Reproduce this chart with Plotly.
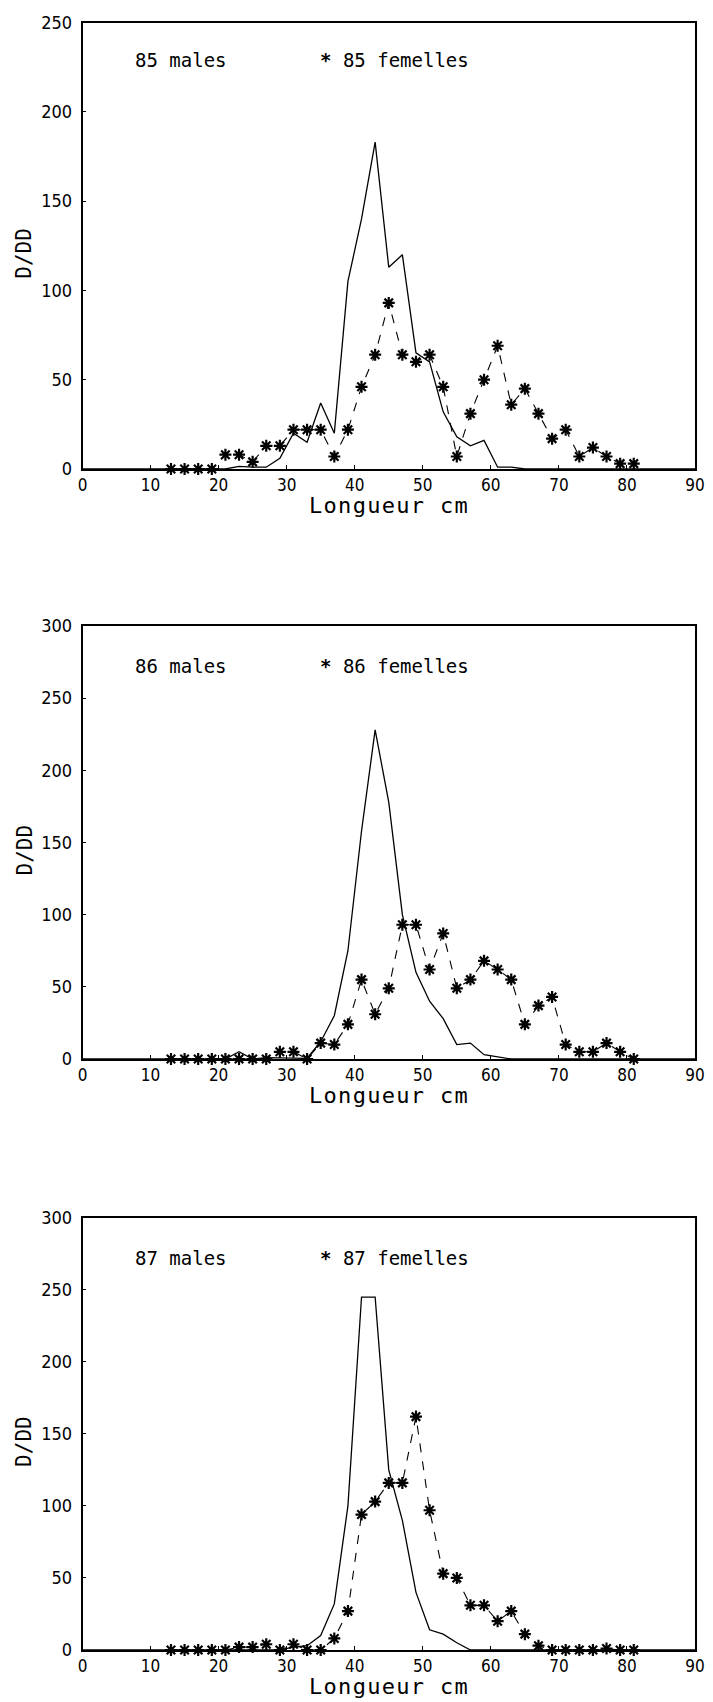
import plotly.graph_objects as go
from plotly.subplots import make_subplots

# ---------------- data ----------------
# female length classes (cm)
fem_x = [13, 15, 17, 19, 21, 23, 25, 27, 29, 31, 33, 35, 37, 39, 41, 43, 45, 47, 49,
         51, 53, 55, 57, 59, 61, 63, 65, 67, 69, 71, 73, 75, 77, 79, 81]

fem_85 = [0, 0, 0, 0, 8, 8, 4, 13, 13, 22, 22, 22, 7, 22, 46, 64, 93, 64, 60,
          64, 46, 7, 31, 50, 69, 36, 45, 31, 17, 22, 7, 12, 7, 3, 3]
fem_86 = [0, 0, 0, 0, 0, 0, 0, 0, 5, 5, 0, 11, 10, 24, 55, 31, 49, 93, 93,
          62, 87, 49, 55, 68, 62, 55, 24, 37, 43, 10, 5, 5, 11, 5, 0]
fem_87 = [0, 0, 0, 0, 0, 2, 2, 4, 0, 4, 0, 0, 8, 27, 94, 103, 116, 116, 162,
          97, 53, 50, 31, 31, 20, 27, 11, 3, 0, 0, 0, 0, 1, 0, 0]

# male length classes (cm)
male_x = [0, 19, 21, 23, 25, 27, 29, 31, 33, 35, 37, 39, 41, 43, 45, 47, 49,
          51, 53, 55, 57, 59, 61, 63, 65, 67, 69, 71, 73, 75, 77, 79, 90]

male_85 = [0, 0, 0, 1.5, 1, 1, 6, 20, 15, 37, 20, 105, 140, 183, 113, 120, 65,
           60, 32, 18, 13, 16, 1, 1, 0, 0, 0, 0, 0, 0, 0, 0, 0]
male_86 = [0, 0, 0, 5, 0, 1, 1, 1, 0.5, 12, 30, 75, 158, 228, 178, 100, 60,
           40, 28, 10, 11, 3, 1.5, 0, 0, 0, 0, 0.5, 0.5, 0.5, 0.5, 0, 0]
male_87 = [0, 0, 0, 0, 0, 0, 0, 2, 3, 10, 32, 100, 245, 245, 125, 90, 40,
           14, 11, 5, 0, 0, 0, 0, 0, 0, 0, 0, 0, 0, 0, 0, 0]

years = ["85", "86", "87"]
males = [male_85, male_86, male_87]
females = [fem_85, fem_86, fem_87]
y_max = [250, 300, 300]
y_ticks = [[0, 50, 100, 150, 200, 250],
           [0, 50, 100, 150, 200, 250, 300],
           [0, 50, 100, 150, 200, 250, 300]]
x_ticks = [0, 10, 20, 30, 40, 50, 60, 70, 80, 90]

x_title = "Longueur cm"
y_title = "D/DD"

# ---------------- layout ----------------
W, H = 713, 1702
OFF = 8  # page body margin of the html page
MONO = "DejaVu Sans Mono"
NARROW = "Liberation Sans Narrow, DejaVu Sans Condensed, DejaVu Sans Mono"


def px_x(px):
    return (px - OFF) / W


def px_y(py):
    return 1 - (py - OFF) / H


fig = make_subplots(rows=3, cols=1)

# page-pixel positions of plot frames (top, bottom)
frames = [(22.5, 469), (626, 1059), (1217.8, 1650)]
x_left, x_right = 82.5, 695
label_y = [229, 272, 272]

for i in range(3):
    r = i + 1
    fig.add_trace(go.Scatter(
        x=male_x, y=males[i], mode="lines",
        line=dict(color="black", width=1.3),
        showlegend=False, cliponaxis=False), row=r, col=1)
    fig.add_trace(go.Scatter(
        x=fem_x, y=females[i], mode="lines+markers",
        line=dict(color="black", width=1.1, dash="dash"),
        marker=dict(symbol="asterisk-open", size=10, color="black",
                    line=dict(color="black", width=2.2)),
        showlegend=False, cliponaxis=False), row=r, col=1)

    top, bot = frames[i]
    ydom = [px_y(bot), px_y(top)]
    xdom = [px_x(x_left), px_x(x_right)]
    xa = "xaxis" if i == 0 else f"xaxis{r}"
    ya = "yaxis" if i == 0 else f"yaxis{r}"
    fig.layout[xa].update(
        domain=xdom, range=[0, 90], tickvals=x_ticks, automargin=False,
        showgrid=False, zeroline=False, showline=True, mirror=True,
        linecolor="black", linewidth=1.5, ticks="inside", ticklen=4,
        tickcolor="black", ticklabelstandoff=0,
        tickfont=dict(family=NARROW, size=17, color="black"))
    fig.layout[ya].update(
        domain=ydom, range=[0, y_max[i]], tickvals=y_ticks[i], automargin=False,
        showgrid=False, zeroline=False, showline=True, mirror=True,
        linecolor="black", linewidth=1.5, ticks="inside", ticklen=4,
        tickcolor="black", ticklabelstandoff=5,
        tickfont=dict(family=NARROW, size=18, color="black"))

    # axis titles
    fig.add_annotation(x=px_x((x_left + x_right) / 2), y=px_y(bot + 36),
                       xref="paper", yref="paper", showarrow=False,
                       xanchor="center", yanchor="middle",
                       text=f'<span style="letter-spacing:1.3px">{x_title}</span>',
                       font=dict(family=MONO, size=22, color="black"))
    fig.add_annotation(x=px_x(24), y=px_y((top + bot) / 2 + 8),
                       xref="paper", yref="paper", showarrow=False,
                       xanchor="center", yanchor="middle", textangle=-90,
                       text=y_title,
                       font=dict(family=MONO, size=21, color="black"))

    # text labels inside the frame
    xr = "x" if i == 0 else f"x{r}"
    yr = "y" if i == 0 else f"y{r}"
    fig.add_annotation(x=7.4, y=label_y[i], xref=xr, yref=yr, text=f"{years[i]} males",
                       showarrow=False, xanchor="left", yanchor="middle",
                       font=dict(family=MONO, size=19, color="black"))
    fig.add_annotation(x=34.6, y=label_y[i], xref=xr, yref=yr,
                       text=f"<b>*</b> {years[i]} femelles",
                       showarrow=False, xanchor="left", yanchor="middle",
                       font=dict(family=MONO, size=19, color="black"))

fig.update_layout(
    width=W, height=H, margin=dict(l=0, r=0, t=0, b=0, autoexpand=False),
    paper_bgcolor="white", plot_bgcolor="white",
    font=dict(family=MONO, color="black"),
)

fig.write_html("out.html")
